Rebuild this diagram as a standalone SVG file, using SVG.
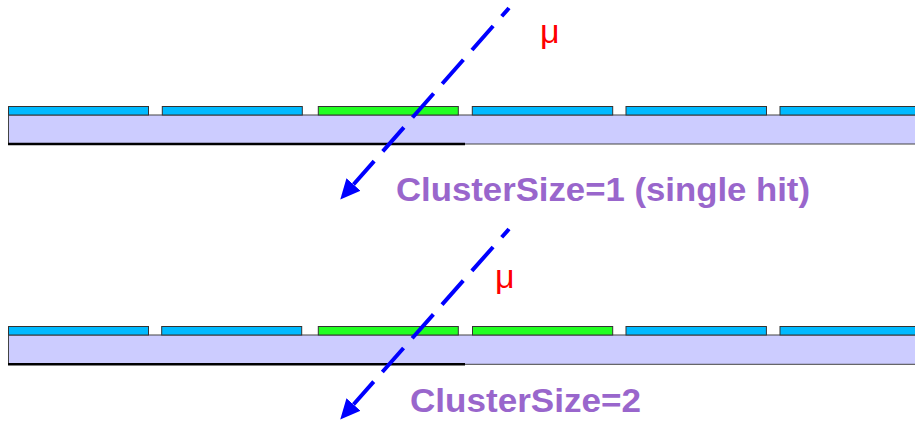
<svg xmlns="http://www.w3.org/2000/svg" width="915" height="421" viewBox="0 0 915 421">
<style>
.sub{fill:#ccccff;stroke:#444;stroke-width:1}
.base{stroke:#000;stroke-width:2.5}
.blue{fill:#00baff;stroke:#333;stroke-width:1}
.green{fill:#22ff22;stroke:#333;stroke-width:1}
.mu{fill:#ff0000;font-family:"Liberation Sans",Arial,sans-serif;font-size:34px}
.lbl{fill:#9966cc;font-family:"Liberation Sans",Arial,sans-serif;font-weight:bold;font-size:34px}
.track{fill:none;stroke:#0000ff;stroke-width:4;stroke-dasharray:32 13;stroke-dashoffset:21}
</style>
<defs>
<marker id="ah" markerUnits="userSpaceOnUse" markerWidth="20" markerHeight="20" refX="0" refY="7.5" orient="auto" viewBox="0 0 16 15">
<path d="M0,0 L16,7.5 L0,15 Z" fill="#0000ff"/>
</marker>
</defs>
<g id="detector-top">
<rect class="sub" x="8.5" y="115" width="920" height="29"/>
<line class="base" x1="8" y1="144" x2="465" y2="144"/>
<rect class="blue" x="8.5" y="106.5" width="140" height="8.5"/>
<rect class="blue" x="162.3" y="106.5" width="140" height="8.5"/>
<rect class="green" x="318.3" y="106.5" width="140" height="8.5"/>
<rect class="blue" x="472.3" y="106.5" width="140.4" height="8.5"/>
<rect class="blue" x="626" y="106.5" width="140.5" height="8.5"/>
<rect class="blue" x="780" y="106.5" width="140" height="8.5"/>
</g>
<g id="detector-bottom">
<rect class="sub" x="8.5" y="335" width="920" height="29.3"/>
<line class="base" x1="8" y1="364.3" x2="465" y2="364.3"/>
<rect class="blue" x="8.5" y="326.5" width="140" height="8.5"/>
<rect class="blue" x="161.7" y="326.5" width="140" height="8.5"/>
<rect class="green" x="318.3" y="326.5" width="140" height="8.5"/>
<rect class="green" x="472.5" y="326.5" width="140.2" height="8.5"/>
<rect class="blue" x="626" y="326.5" width="140.4" height="8.5"/>
<rect class="blue" x="780" y="326.5" width="140" height="8.5"/>
</g>
<g id="connectors">
<line class="track" x1="509" y1="8" x2="353.5" y2="184.5" marker-end="url(#ah)"/>
<line class="track" x1="509" y1="229" x2="353.5" y2="404.5" marker-end="url(#ah)"/>
</g>
<g id="label-top">
<text class="mu" x="540" y="42.5">μ</text>
<text class="lbl" x="396" y="201" textLength="414" lengthAdjust="spacingAndGlyphs">ClusterSize=1 (single hit)</text>
</g>
<g id="label-bottom">
<text class="mu" x="495" y="287.5">μ</text>
<text class="lbl" x="410" y="411.7" textLength="231" lengthAdjust="spacingAndGlyphs">ClusterSize=2</text>
</g>
</svg>
